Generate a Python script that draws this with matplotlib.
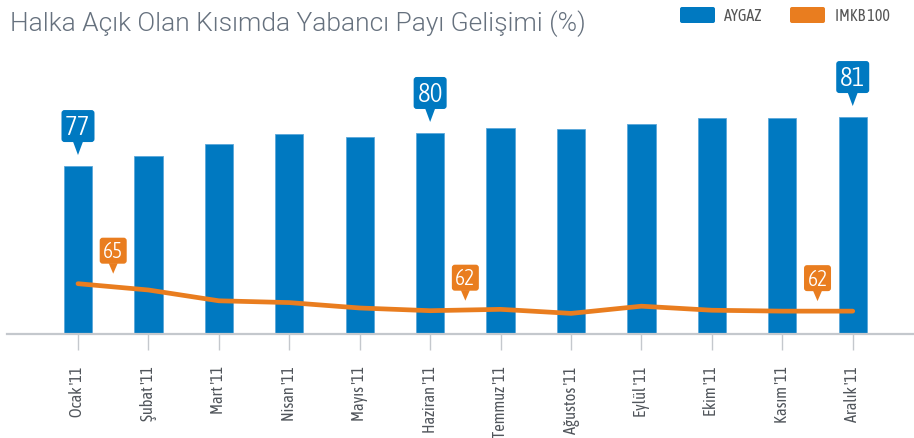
import os
import matplotlib
matplotlib.use('Agg')
import matplotlib.pyplot as plt
from matplotlib import font_manager as fm
from matplotlib.font_manager import FontProperties
from matplotlib.patches import FancyBboxPatch, Polygon
from matplotlib.transforms import IdentityTransform

# ---------------- data ----------------
months = ["Ocak '11", "Şubat '11", "Mart '11", "Nisan '11", "Mayıs '11", "Haziran '11",
          "Temmuz '11", "Ağustos '11", "Eylül '11", "Ekim '11", "Kasım '11", "Aralık '11"]
aygaz = [77.0, 77.8, 78.8, 79.6, 79.4, 79.7, 80.1, 80.0, 80.4, 80.9, 80.9, 81.0]
imkb = [65.0, 64.3, 63.1, 62.9, 62.3, 62.0, 62.15, 61.7, 62.5, 62.05, 61.95, 61.95]
aygaz_callout_idx = [0, 5, 11]
aygaz_callout_txt = ['77', '80', '81']
imkb_callout_idx = [0, 5, 11]
imkb_callout_txt = ['65', '62', '62']
imkb_callout_shift = [0.5, 0.5, -0.5]
series_names = ['AYGAZ', 'IMKB 100']
title = 'Halka Açık Olan Kısımda Yabancı Payı Gelişimi (%)'

BLUE = '#0079c1'
ORANGE = '#e97d1f'
GRAY_AX = '#c4c8cd'
TXT = '#50555b'

# ---------------- fonts ----------------
def find_font(keywords, weights):
    cands = []
    for f in fm.fontManager.ttflist:
        nm = f.name + ' ' + os.path.basename(f.fname)
        if any(k in nm for k in keywords):
            cands.append(f)
    for w in weights:
        for f in cands:
            b = os.path.basename(f.fname)
            if w in b and 'Italic' not in b:
                return FontProperties(fname=f.fname)
    for f in cands:
        if 'Italic' not in os.path.basename(f.fname):
            return FontProperties(fname=f.fname)
    return None

cond_reg = find_font(['Condensed', 'Narrow'], ['Condensed-Regular', 'Narrow-Regular', 'Regular', 'Narrow.'])
cond_light = find_font(['Condensed', 'Narrow'], ['Condensed-Light', 'CondensedLight', 'Light', 'Regular'])
if cond_reg is None:
    cond_reg = FontProperties(family='Roboto')
if cond_light is None:
    cond_light = cond_reg
title_fp = find_font(['Roboto-Light', 'Lato-Light'], ['Roboto-Light', 'Lato-Light'])
if title_fp is None:
    title_fp = FontProperties(family='Roboto', weight='light')

W, H = 914, 439
fig = plt.figure(figsize=(W / 100, H / 100), dpi=100)
ax = fig.add_axes([7 / W, 104 / H, 907 / W, 275 / H])

x = list(range(len(months)))
ax.bar(x, aygaz, width=0.40, color=BLUE, edgecolor='#5aa7da', linewidth=0.6, zorder=2)
ax.set_xlim(-1.008, 11.87)
ax.set_ylim(63.29, 63.29 + 275 / 12.25)

for s in ['top', 'left', 'right']:
    ax.spines[s].set_visible(False)
ax.spines['bottom'].set_color(GRAY_AX)
ax.spines['bottom'].set_linewidth(1.6)
ax.set_yticks([])
ax.set_xticks(x)
ax.set_xticklabels(months, rotation=90, fontproperties=cond_reg, fontsize=11.8, color=TXT)
ax.tick_params(axis='x', direction='out', length=11.5, width=1.0, color=GRAY_AX, pad=11)

ax2 = ax.twinx()
ax2.set_ylim(59.41, 59.41 + 275 / 9.0)
ax2.set_xlim(ax.get_xlim())
ax2.axis('off')
ax2.plot(x, imkb, color=ORANGE, lw=3.4, solid_capstyle='round', solid_joinstyle='round', zorder=3)

ident = IdentityTransform()


def callout(px, py, text, color, gap, ptr_h, ptr_hw, bw, bh, fs):
    tip = py + gap
    base = tip + ptr_h
    tri = Polygon([[px - ptr_hw, base + 0.5], [px + ptr_hw, base + 0.5], [px, tip]],
                  closed=True, fc=color, ec='none', transform=ident)
    fig.add_artist(tri)
    box = FancyBboxPatch((px - bw / 2, base), bw, bh,
                         boxstyle='round,pad=0,rounding_size=3', fc=color, ec='none',
                         transform=ident)
    fig.add_artist(box)
    fig.text(px, base + bh / 2 - 0.5, text, transform=ident, ha='center', va='center',
             color='white', fontproperties=cond_light, fontsize=fs)


for i, t in zip(aygaz_callout_idx, aygaz_callout_txt):
    px, py = ax.transData.transform((i, aygaz[i]))
    callout(px, py, t, BLUE, 11, 13, 5, 33, 32, 19.5)

for i, t, sh in zip(imkb_callout_idx, imkb_callout_txt, imkb_callout_shift):
    px, py = ax2.transData.transform((i + sh, imkb[i]))
    callout(px, py, t, ORANGE, 10, 10, 4.5, 27, 26, 15.5)

# title
fig.text(10, H - 30.7, title, transform=ident, ha='left', va='baseline',
         fontproperties=title_fp, fontsize=19, color='#66717e')

# legend
for (lx, tx), name, col in zip([(680, 724), (790, 835)], series_names, [BLUE, ORANGE]):
    fig.add_artist(FancyBboxPatch((lx, H - 24), 35, 16, boxstyle='round,pad=0,rounding_size=2',
                                  fc=col, ec='none', transform=ident))
    fig.text(tx, H - 16.5, name, transform=ident, ha='left', va='center',
             fontproperties=cond_reg, fontsize=11.5, color='#555555')

fig.savefig('out.png', dpi=100)
